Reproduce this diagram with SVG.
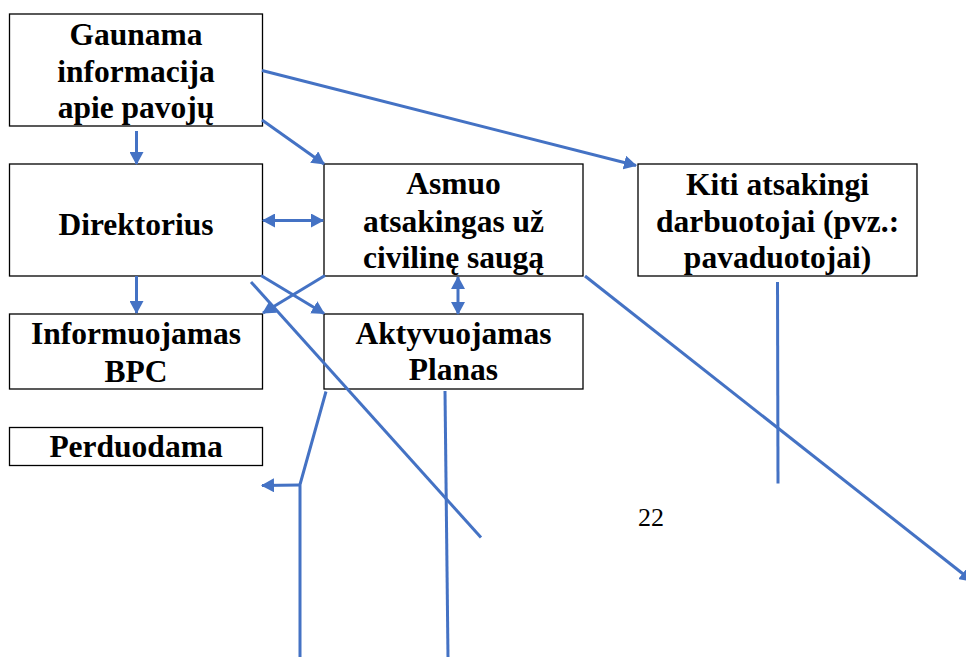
<svg xmlns="http://www.w3.org/2000/svg" width="966" height="657" viewBox="0 0 966 657">
<defs>
<style>
.box{fill:#fff;stroke:#000;stroke-width:1.3}
.t{font-size:31.5px;text-anchor:middle;fill:#000}
.c{fill:none;stroke:#4472C4;stroke-width:3}
.a{marker-end:url(#ah)}
.d{marker-start:url(#ah);marker-end:url(#ah)}
</style>
<marker id="ah" markerUnits="userSpaceOnUse" markerWidth="14" markerHeight="14" refX="12" refY="7" orient="auto-start-reverse">
<path d="M0,0 L13,7 L0,14 z" fill="#4472C4"/>
</marker>
</defs>
<rect width="966" height="657" fill="#fff"/>
<g font-family="Liberation Serif, Times New Roman, Tinos, DejaVu Serif, serif" font-weight="700">
<g id="n1"><rect class="box" x="9.5" y="14" width="253" height="112"/>
<text class="t" x="136" y="45">Gaunama</text><text class="t" x="136" y="82">informacija</text><text class="t" x="136" y="118">apie pavojų</text></g>
<g id="n2"><rect class="box" x="9.5" y="164" width="253" height="112"/>
<text class="t" x="136" y="235">Direktorius</text></g>
<g id="n3"><rect class="box" x="324" y="164" width="259" height="112"/>
<text class="t" x="453.5" y="194">Asmuo</text><text class="t" x="453.5" y="231.5">atsakingas už</text><text class="t" x="453.5" y="268">civilinę saugą</text></g>
<g id="n4"><rect class="box" x="638" y="164" width="279" height="112"/>
<text class="t" x="777.5" y="195">Kiti atsakingi</text><text class="t" x="777.5" y="231.5">darbuotojai (pvz.:</text><text class="t" x="777.5" y="268">pavaduotojai)</text></g>
<g id="n5"><rect class="box" x="9.5" y="314" width="253" height="75"/>
<text class="t" x="136" y="344">Informuojamas</text><text class="t" x="136" y="381.5">BPC</text></g>
<g id="n6"><rect class="box" x="324" y="314" width="259" height="75"/>
<text class="t" x="453.5" y="343.5">Aktyvuojamas</text><text class="t" x="453.5" y="380">Planas</text></g>
<g id="n7"><rect class="box" x="9.5" y="427.5" width="253" height="38"/>
<text class="t" x="136" y="456.5">Perduodama</text></g>
</g>
<text x="651" y="526" font-family="Liberation Serif, Times New Roman, serif" font-size="26" text-anchor="middle" fill="#000">22</text>
<g id="connectors">
<line class="c a" x1="262" y1="70.5" x2="636" y2="165.5"/>
<line class="c a" x1="262" y1="120" x2="324" y2="164"/>
<line class="c a" x1="136.5" y1="131" x2="136.5" y2="164"/>
<line class="c d" x1="263" y1="220.5" x2="323" y2="220.5"/>
<line class="c a" x1="136.5" y1="276" x2="136.5" y2="313"/>
<line class="c a" x1="261" y1="275.5" x2="324" y2="313.5"/>
<line class="c a" x1="325" y1="275.5" x2="263" y2="313"/>
<line class="c" x1="251" y1="282" x2="481" y2="537.5"/>
<line class="c d" x1="458" y1="277" x2="458" y2="314"/>
<line class="c a" x1="585" y1="276" x2="972" y2="581"/>
<line class="c" x1="777.5" y1="282" x2="778" y2="483.5"/>
<line class="c" x1="445" y1="391" x2="448" y2="657"/>
<polyline class="c" points="326,391.5 300,484.5 300,657"/>
<line class="c a" x1="300" y1="485" x2="262" y2="485.5"/>
</g>
</svg>
